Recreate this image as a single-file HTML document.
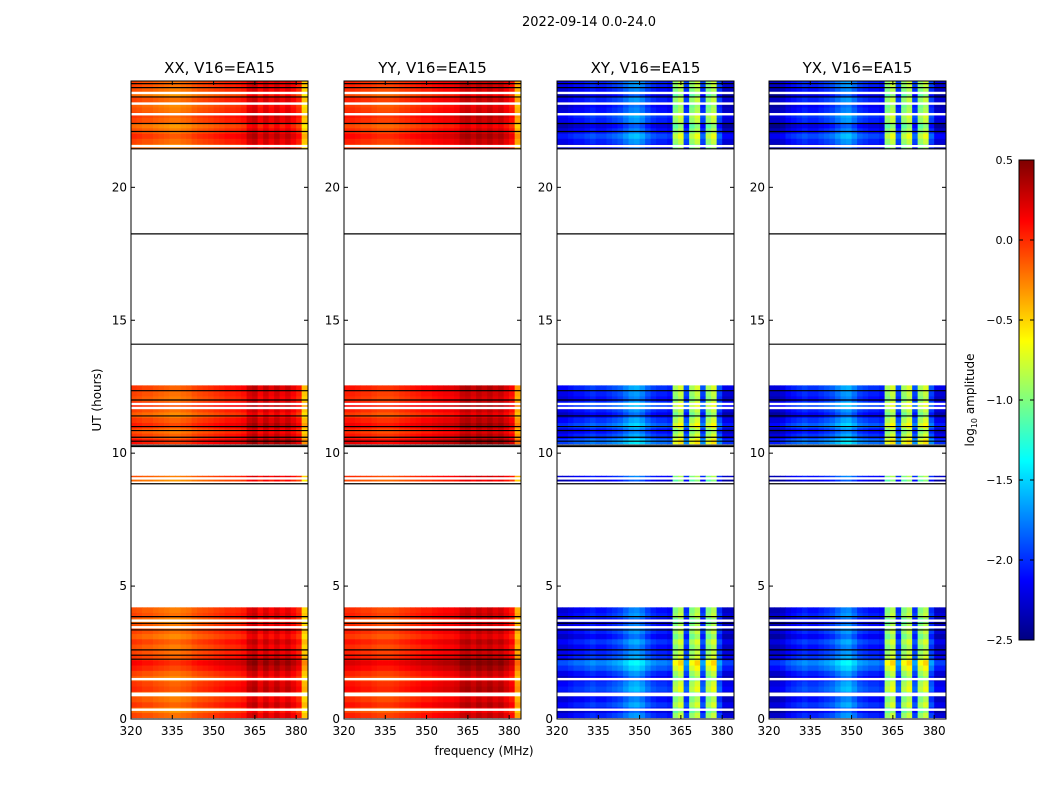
<!DOCTYPE html>
<html><head><meta charset="utf-8"><style>
body{margin:0;background:#fff;font-family:"Liberation Sans","DejaVu Sans",sans-serif}
svg text{font-family:"DejaVu Sans","Liberation Sans",sans-serif}
</style></head><body>
<svg id="s" width="1050" height="800" xmlns="http://www.w3.org/2000/svg"></svg>
<script>
// ---- data ----
const panelTitles=["XX, V16=EA15","YY, V16=EA15","XY, V16=EA15","YX, V16=EA15"];
const xTicks=[320,335,350,365,380];
const yTicks=[0,5,10,15,20];
const cbTicks=[0.5,0.0,-0.5,-1.0,-1.5,-2.0,-2.5];
const freqEdges=[320,322,324,326,328,330,332,334,336,338,340,342,344,346,348,350,352,354,356,358,360,362,364,366,368,370,372,374,376,378,380,382,384.3];
const profXX=[-0.1,-0.12,-0.15,-0.15,-0.18,-0.2,-0.22,-0.25,-0.25,-0.22,-0.2,-0.15,-0.12,-0.1,-0.08,-0.05,-0.03,0.0,0.0,0.02,0.05,0.2,0.25,0.1,0.22,0.12,0.22,0.12,0.2,0.1,0.0,-0.5];
const profYY=[0.0,0.0,-0.02,-0.05,-0.05,-0.08,-0.1,-0.1,-0.1,-0.08,-0.05,-0.03,0.0,0.02,0.05,0.05,0.08,0.1,0.12,0.12,0.15,0.25,0.28,0.2,0.28,0.22,0.28,0.2,0.25,0.15,0.05,-0.4];
const profXY=[-2.25,-2.25,-2.2,-2.15,-2.15,-2.1,-2.05,-2.1,-2.1,-2.05,-2.0,-1.95,-1.85,-1.75,-1.72,-1.8,-1.95,-2.05,-2.1,-2.1,-2.15,-1.0,-0.85,-2.0,-1.0,-0.85,-2.0,-1.0,-0.85,-2.0,-2.3,-2.3];
const profYX=[-2.35,-2.35,-2.3,-2.2,-2.15,-2.1,-2.05,-2.1,-2.1,-2.05,-2.0,-1.95,-1.85,-1.75,-1.72,-1.85,-2.0,-2.05,-2.1,-2.1,-2.15,-1.0,-0.85,-2.0,-1.0,-0.85,-2.0,-1.0,-0.85,-2.0,-2.3,-2.3];
const segStart=[0.05,8.95,10.35,21.45];
const segEnd=[4.2,9.15,12.55,24.0];
const rowsA=[0.05,-0.1,0.1,0.0,-0.05,0.15,0.1,-0.05,0.05,0.2,0.3,0.1,0.05,0.0,0.1,-0.05,0.05,0.0,-0.1,0.05,0.0];
const rowsB=[-0.1,0.0];
const rowsC=[0.25,0.1,0.0,0.2,0.1,-0.05,0.05,0.15,0.0,0.05,0.1];
const rowsD=[-0.05,0.05,0.15,0.0,-0.1,0.05,0.1,0.0,-0.05,0.05,-0.1,0.0,0.05];
const whiteGaps=[0.35,0.9,0.95,1.5,3.45,3.7,9.05,11.7,11.85,21.55,22.75,23.15,23.55];
const blackLines=[2.25,2.4,2.6,3.35,3.6,3.85,8.85,10.25,10.3,10.45,10.6,10.85,11.0,11.4,12.0,12.35,14.1,18.25,21.45,22.1,22.4,23.4,23.75,23.9];
// ---- layout ----
const NS="http://www.w3.org/2000/svg";
const svg=document.getElementById('s');
const panelX=[131,344,557,769], PW=177, PT=81, PB=719;
const profs=[profXX,profYY,profXY,profYX];
const rowScale=[0.8,0.8,1.2,1.2];
const rowsets=[rowsA,rowsB,rowsC,rowsD];
function jet(v){let x=(v+2.5)/3;x=Math.max(0,Math.min(1,x));
 const c=t=>Math.round(255*Math.max(0,Math.min(1,t)));
 return `rgb(${c(1.5-Math.abs(4*x-3))},${c(1.5-Math.abs(4*x-2))},${c(1.5-Math.abs(4*x-1))})`;}
function el(t,a,p){const e=document.createElementNS(NS,t);for(const k in a)e.setAttribute(k,a[k]);(p||svg).appendChild(e);return e;}
function txt(x,y,s,size,anchor,p){const e=el('text',{x:x,y:y,'font-size':size,'text-anchor':anchor||'middle',fill:'#000'},p);e.textContent=s;return e;}
const yS=h=>PB-(h/24)*(PB-PT);
let t=txt(589,26,"2022-09-14 0.0-24.0",13);


for(let p=0;p<4;p++){
 const x0=panelX[p];
 const xS=f=>x0+(f-320)/(384.3-320)*PW;
 const g=el('g',{});
 
 
 for(let s=0;s<segStart.length;s++){
  const rows=rowsets[s];const rh=(segEnd[s]-segStart[s])/rows.length;
  for(let r=0;r<rows.length;r++){
   const t0=segStart[s]+r*rh,t1=t0+rh;
   for(let c=0;c<profs[p].length;c++){
    const v=profs[p][c]+rows[r]*rowScale[p];
    const xa=xS(freqEdges[c]),xb=xS(freqEdges[c+1]);
    const cell=el('rect',{x:xa,y:yS(t1),width:xb-xa+0.4,height:yS(t0)-yS(t1)+0.4,fill:jet(v)},g);
    
    
   }
  }
 }
 for(const w of whiteGaps){const r=el('rect',{x:x0,y:yS(w)-1.2,width:PW,height:2.4,fill:'#fff'},g);
  }
 for(const b of blackLines){const l=el('line',{x1:x0,x2:x0+PW,y1:yS(b),y2:yS(b),stroke:'#000','stroke-width':1.2},g);
  }
 const fr=el('rect',{x:x0,y:PT,width:PW,height:PB-PT,fill:'none',stroke:'#000','stroke-width':1},g);
 
 for(const xt of xTicks){const X=xS(xt);
  el('line',{x1:X,x2:X,y1:PB,y2:PB-4,stroke:'#000'},g);el('line',{x1:X,x2:X,y1:PT,y2:PT+4,stroke:'#000'},g);
  const tl=txt(X,PB+16,String(xt),12,'middle',g);
  }
 for(const yt of yTicks){const Y=yS(yt);
  el('line',{x1:x0,x2:x0+4,y1:Y,y2:Y,stroke:'#000'},g);el('line',{x1:x0+PW,x2:x0+PW-4,y1:Y,y2:Y,stroke:'#000'},g);
  const tl=txt(x0-4,Y+4,String(yt),12,'end',g);
  }
 const pt=txt(x0+PW/2,73,panelTitles[p],15,'middle',g);
 
}
let a=txt(0,0,"UT (hours)",12);a.setAttribute('transform','translate(101,400) rotate(-90)');

a=txt(484,755,"frequency (MHz)",12);

// colorbar
const cb=el('g',{});

const CX=1019,CW=15,CT=160,CB=640;
for(let i=0;i<240;i++){const v=-2.5+3*(i+0.5)/240;
 el('rect',{x:CX,y:CB-(i+1)*(CB-CT)/240,width:CW,height:(CB-CT)/240+0.5,fill:jet(v)},cb);}
el('rect',{x:CX,y:CT,width:CW,height:CB-CT,fill:'none',stroke:'#000'},cb);
for(const v of cbTicks){const Y=CB-(v+2.5)/3*(CB-CT);
 el('line',{x1:CX,x2:CX+4,y1:Y,y2:Y,stroke:'#000'},cb);
 el('line',{x1:CX+CW-4,x2:CX+CW,y1:Y,y2:Y,stroke:'#000'},cb);
 const tl=txt(CX-6,Y+4,(v<0?'\u2212':'')+Math.abs(v).toFixed(1),11,'end',cb);
 }
a=el('text',{transform:'translate(974,400) rotate(-90)','font-size':12,'text-anchor':'middle'});
a.innerHTML='log<tspan font-size="8" dy="3">10</tspan><tspan dy="-3"> amplitude</tspan>';

</script>
</body></html>
